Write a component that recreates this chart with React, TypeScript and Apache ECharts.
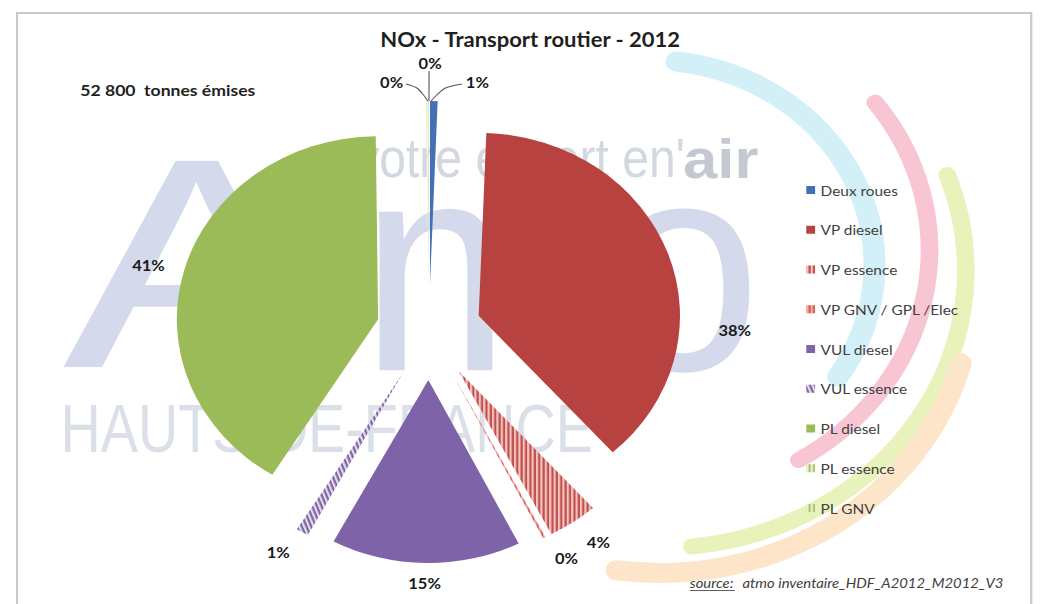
import React, { useEffect, useRef } from 'react';
import * as echarts from 'echarts';

// ---- data ----
const chartTitle = 'NOx - Transport routier - 2012';
const totalText = '52 800  tonnes émises';
const sourceLabel = 'source:';
const sourceText = 'atmo inventaire_HDF_A2012_M2012_V3';
const categories = [
  'Deux roues',
  'VP diesel',
  'VP essence',
  'VP GNV / GPL /Elec',
  'VUL diesel',
  'VUL essence',
  'PL diesel',
  'PL essence',
  'PL GNV',
];
// tonnes of NOx (total 52 800 t)
const tonnes = [320, 19960, 2110, 100, 8030, 530, 21650, 35, 65];

// ---- styles / layout (kept apart from the data) ----
const STRETCH = 1.1; // the reference image is stretched horizontally
const W = 948;
const H = 604;
const PIE_CX = 390;
const PIE_CY = 332;
const PIE_R = 183;
const OFFSET = 48;
const colors = ['#4470b5', '#b8423f', '#f3c4bf', '#f2aaa6', '#7f63a8', '#e4dcef', '#9bbb59', '#eef3dc', '#eef3dc'];
const decalColors = [null, null, '#c0504d', '#d9615d', null, '#8064a2', null, '#a9c56a', '#a9c56a'];
const decalRot = [0, 0, Math.PI / 2, Math.PI / 2, 0, Math.PI / 2.6, 0, Math.PI / 2, Math.PI / 2];
// label anchor positions (chart space, centre of text)
const labelPos: [number, number][] = [
  [434, 82],
  [668, 330],
  [544, 542],
  [515, 558],
  [386, 583],
  [253, 552],
  [135, 265],
  [356, 82],
  [391, 63],
];
// leader lines for the tiny top slices (chart space)
const leaderLines: [number, number][][] = [
  [[392, 101], [397, 95], [405, 88], [420, 84]],
  [[389, 101], [385, 95], [379, 88], [369, 84]],
  [[390, 101], [390, 71]],
];
const FONT = 'Lato, "Open Sans", sans-serif';
const WM = '"Liberation Sans", Arial, sans-serif';

function buildOption() {
  const total = tonnes.reduce((a, b) => a + b, 0);
  const data = categories.map((name, i) => {
    const dc = decalColors[i];
    return {
      name,
      value: tonnes[i],
      selected: true,
      itemStyle: {
        color: colors[i],
        decal: dc
          ? { symbol: 'rect', symbolSize: 1, color: dc, dashArrayX: [1, 0], dashArrayY: [2, 1.6], rotation: decalRot[i] }
          : undefined,
      },
    };
  });

  const deg = Math.PI / 180;
  const arc = (cx: number, cy: number, r: number, a0: number, a1: number, w: number, color: string) => ({
    type: 'arc',
    silent: true,
    shape: { cx, cy, r, startAngle: a0 * deg, endAngle: a1 * deg, clockwise: true },
    style: { stroke: color, lineWidth: w, fill: 'none', lineCap: 'round' },
  });
  const txt = (
    text: string,
    x: number,
    y: number,
    font: string,
    color: string,
    align = 'left',
    sx = 1,
    z = 0
  ) => ({
    type: 'text',
    silent: true,
    x,
    y,
    z,
    scaleX: sx,
    style: {
      text,
      x: 0,
      y: 0,
      fill: color,
      font,
      align,
      verticalAlign: 'middle',
      textAlign: align,
      textVerticalAlign: 'middle',
    },
  });

  const pctLabels = tonnes.map((v, i) =>
    txt(Math.round((v / total) * 100) + '%', labelPos[i][0], labelPos[i][1], `bold 15px ${FONT}`, '#1a1a1a', 'center', 1, 10)
  );
  const leaders = leaderLines.map((pts) => ({
    type: 'polyline',
    silent: true,
    z: 10,
    shape: { points: pts, smooth: 0.3 },
    style: { stroke: '#555555', lineWidth: 1, fill: 'none' },
  }));

  return {
    animation: false,
    backgroundColor: '#ffffff',
    title: {
      text: chartTitle,
      left: 477,
      top: 24,
      textAlign: 'center',
      textStyle: { fontFamily: FONT, fontSize: 20, fontWeight: 'bold', color: '#1f1f1f' },
    },
    legend: {
      orient: 'vertical',
      left: 733,
      top: 182,
      padding: 0,
      itemWidth: 8,
      itemHeight: 8,
      itemGap: 23.75,
      icon: 'rect',
      selectedMode: false,
      data: categories,
      textStyle: { fontFamily: FONT, fontSize: 14, color: '#404040', lineHeight: 16 },
    },
    graphic: [
      // frame
      {
        type: 'rect',
        silent: true,
        shape: { x: 15.5, y: 13, width: 922, height: 610 },
        style: { fill: 'none', stroke: '#c9c9c9', lineWidth: 2 },
      },
      // decorative arcs
      arc(590, 265, 205, -83, 33, 20, '#d3f0f9'),
      arc(600, 250, 245, -37, 59, 16, '#f8c6d3'),
      arc(600, 270, 278, -20, 84, 16, '#e8f2bb'),
      arc(600, 290, 283, 15, 98, 20, '#fde5c9'),
      // watermark logo
      txt('A', 57, 263, `300px ${WM}`, '#d4daeb', 'left', 1.21),
      txt('m', 327, 266, `300px ${WM}`, '#d4daeb', 'left', 0.87),
      txt('o', 550, 266, `300px ${WM}`, '#d4daeb', 'left', 0.85),
      txt("votre expert en'", 323, 158, `56px ${WM}`, '#d3d7df', 'left', 0.78),
      txt('air', 621, 158, `bold 56px ${WM}`, '#c4c8d0', 'left', 1.0),
      txt('HAUTS-DE-FRANCE', 55, 428, `68px ${WM}`, '#dbdfe8', 'left', 0.745),
      // total
      txt(totalText, 73, 90, `bold 16px ${FONT}`, '#1f1f1f'),
      // source
      txt(sourceLabel, 627, 583, `italic 13.5px ${FONT}`, '#404040'),
      {
        type: 'line',
        silent: true,
        shape: { x1: 627, y1: 590.5, x2: 668, y2: 590.5 },
        style: { stroke: '#404040', lineWidth: 0.8 },
      },
      txt(sourceText, 675, 583, `italic 13.5px ${FONT}`, '#404040'),
      // percentage labels and leader lines
      ...leaders,
      ...pctLabels,
    ],
    series: [
      {
        type: 'pie',
        center: [PIE_CX, PIE_CY],
        radius: [0, PIE_R],
        startAngle: 90,
        clockwise: true,
        selectedMode: 'multiple',
        selectedOffset: OFFSET,
        avoidLabelOverlap: false,
        silent: true,
        z: 2,
        itemStyle: { borderWidth: 0 },
        select: { itemStyle: { borderWidth: 0 } },
        label: { show: false },
        labelLine: { show: false },
        data,
      },
    ],
  };
}

export default function App() {
  const ref = useRef<HTMLDivElement>(null);
  useEffect(() => {
    if (!ref.current) return;
    const chart = echarts.init(ref.current, null, { renderer: 'svg', width: W, height: H });
    chart.setOption(buildOption() as any);
    return () => chart.dispose();
  }, []);
  return (
    <div
      style={{
        position: 'fixed',
        left: 0,
        top: 0,
        width: 1043,
        height: 604,
        overflow: 'hidden',
        background: '#ffffff',
      }}
    >
      <div
        ref={ref}
        style={{ width: W, height: H, transform: `scaleX(${STRETCH})`, transformOrigin: '0 0' }}
      />
    </div>
  );
}
